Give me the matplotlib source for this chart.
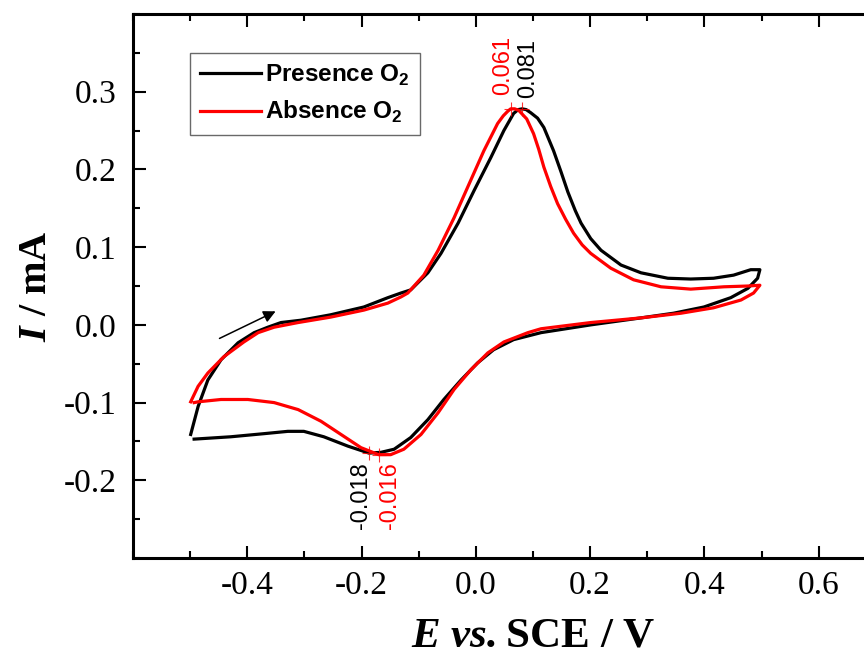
import numpy as np
import matplotlib
matplotlib.use("Agg")
import matplotlib.pyplot as plt
from matplotlib.ticker import MultipleLocator, FormatStrFormatter

plt.rcParams['font.family'] = 'Liberation Serif'
plt.rcParams['axes.unicode_minus'] = False
plt.rcParams['mathtext.fontset'] = 'custom'
plt.rcParams['mathtext.bfit'] = 'Liberation Serif:italic:bold'
plt.rcParams['mathtext.bf'] = 'Liberation Sans:bold'
plt.rcParams['mathtext.rm'] = 'Liberation Sans'

# Presence O2 (E / V, I / mA), one full cycle
e_presence = [-0.499, -0.486, -0.469, -0.446, -0.416, -0.388, -0.364, -0.341, -0.306, -0.254,
              -0.196, -0.154, -0.131, -0.114, -0.084, -0.061, -0.031, -0.003, 0.026, 0.049,
              0.066, 0.074, 0.081, 0.088, 0.096, 0.108, 0.119, 0.136, 0.149, 0.161, 0.174, 0.184,
              0.201, 0.219, 0.254, 0.289,
              0.336, 0.376, 0.416, 0.451, 0.481, 0.497,
              0.493, 0.476, 0.446, 0.399, 0.346, 0.289, 0.201, 0.114, 0.066, 0.031,
              0.003, -0.026, -0.056, -0.084, -0.114, -0.143, -0.166, -0.187, -0.224, -0.266,
              -0.301, -0.329, -0.371, -0.429, -0.493]
i_presence = [-0.141, -0.105, -0.071, -0.045, -0.023, -0.010, -0.003, 0.003, 0.006, 0.013,
              0.023, 0.035, 0.041, 0.045, 0.067, 0.092, 0.131, 0.173, 0.215, 0.250,
              0.272, 0.277, 0.278, 0.277, 0.273, 0.266, 0.254, 0.224, 0.197, 0.171, 0.147, 0.131,
              0.111, 0.096, 0.077, 0.067,
              0.060, 0.059, 0.060, 0.064, 0.071, 0.071,
              0.060, 0.047, 0.035, 0.023, 0.015, 0.009, 0.000, -0.010, -0.019, -0.032,
              -0.049, -0.071, -0.096, -0.122, -0.145, -0.160, -0.164, -0.165, -0.156, -0.144,
              -0.137, -0.137, -0.140, -0.144, -0.147]

# Absence O2
e_absence = [-0.499, -0.486, -0.469, -0.441, -0.406, -0.381, -0.353, -0.311, -0.254, -0.196,
             -0.154, -0.131, -0.119, -0.091, -0.066, -0.038, -0.009, 0.014, 0.038, 0.048, 0.056,
             0.061, 0.068, 0.075, 0.089, 0.101, 0.110, 0.119, 0.131, 0.143, 0.157, 0.171, 0.186,
             0.201, 0.236, 0.276,
             0.324, 0.376, 0.434, 0.476, 0.497,
             0.486, 0.464, 0.416, 0.359, 0.289, 0.201, 0.114, 0.091, 0.049, 0.021,
             -0.009, -0.038, -0.066, -0.096, -0.126, -0.149, -0.170, -0.201, -0.236, -0.271,
             -0.311, -0.353, -0.399, -0.446, -0.486, -0.493]
i_absence = [-0.099, -0.079, -0.062, -0.041, -0.022, -0.010, -0.003, 0.003, 0.010, 0.019,
             0.028, 0.036, 0.041, 0.064, 0.096, 0.138, 0.186, 0.224, 0.259, 0.269, 0.275,
             0.278, 0.278, 0.276, 0.265, 0.246, 0.226, 0.203, 0.178, 0.156, 0.136, 0.118, 0.103,
             0.092, 0.073, 0.058,
             0.049, 0.046, 0.049, 0.050, 0.051,
             0.041, 0.032, 0.022, 0.015, 0.009, 0.003, -0.005, -0.010, -0.022, -0.036,
             -0.058, -0.083, -0.113, -0.141, -0.160, -0.167, -0.167, -0.158, -0.141, -0.124,
             -0.109, -0.100, -0.096, -0.096, -0.099, -0.100]

# peak marks and labels
peak_e = [0.061, 0.081, -0.187, -0.170]
peak_i = [0.278, 0.278, -0.165, -0.167]
peak_text = ['0.061', '0.081', '-0.018', '-0.016']
peak_color = ['red', 'black', 'black', 'red']
text_e = [0.047, 0.091, -0.201, -0.150]
text_i = [0.296, 0.292, -0.177, -0.177]

fig = plt.figure(figsize=(8.64, 6.64), dpi=100)
# x axis runs on past the right edge of the picture
ax = fig.add_axes([0.1539, 0.1596, 0.926, 0.8193])

ax.plot(e_presence, i_presence, color='black', lw=2.3, label='Presence O$_\\mathbf{2}$')
ax.plot(e_absence, i_absence, color='red', lw=2.3, label='Absence O$_\\mathbf{2}$')

ax.plot(peak_e, peak_i, '+', color='red', ms=10, mew=0.8, alpha=0.8)
for e, i, t, c in zip(text_e, text_i, peak_text, peak_color):
    va = 'bottom' if i > 0 else 'top'
    ax.text(e, i, t, color=c, rotation=90, ha='center', va=va,
            fontsize=17, family='Liberation Sans')

# sweep direction arrow
ax.annotate('', xy=(-0.346, 0.019), xytext=(-0.453, -0.019),
            arrowprops=dict(arrowstyle='-|>', color='black', lw=1.1, mutation_scale=18))

ax.set_xlim(-0.6, 0.8)
ax.set_ylim(-0.3, 0.4)
ax.set_xticks([-0.4, -0.2, 0.0, 0.2, 0.4, 0.6])
ax.set_yticks([-0.2, -0.1, 0.0, 0.1, 0.2, 0.3])
ax.xaxis.set_minor_locator(MultipleLocator(0.1))
ax.yaxis.set_minor_locator(MultipleLocator(0.05))
ax.xaxis.set_major_formatter(FormatStrFormatter('%.1f'))
ax.yaxis.set_major_formatter(FormatStrFormatter('%.1f'))
ax.tick_params(which='both', direction='in', top=True, right=True, width=1.5, labelsize=24)
ax.tick_params(which='major', length=9)
ax.tick_params(which='minor', length=5)
ax.tick_params(axis='x', pad=9)
ax.tick_params(axis='y', pad=12)
for s in ax.spines.values():
    s.set_linewidth(2.2)

ax.set_xlabel(r'$\mathbfit{E}$ $\mathbfit{vs.}$SCE / V', fontsize=31, fontweight='bold', labelpad=12)
ax.set_ylabel(r'$\mathbfit{I}$ / mA', fontsize=29, fontweight='bold', labelpad=6)

leg = ax.legend(loc='upper left', bbox_to_anchor=(0.0713, 0.928), borderaxespad=0,
                frameon=True, fancybox=False, edgecolor='#444444', handlelength=2.5,
                handletextpad=0.2, borderpad=0.4, labelspacing=0.45,
                prop={'family': 'Liberation Sans', 'weight': 'bold', 'size': 17.5})
leg.get_frame().set_linewidth(1.0)

fig.savefig('out.png', dpi=100)
